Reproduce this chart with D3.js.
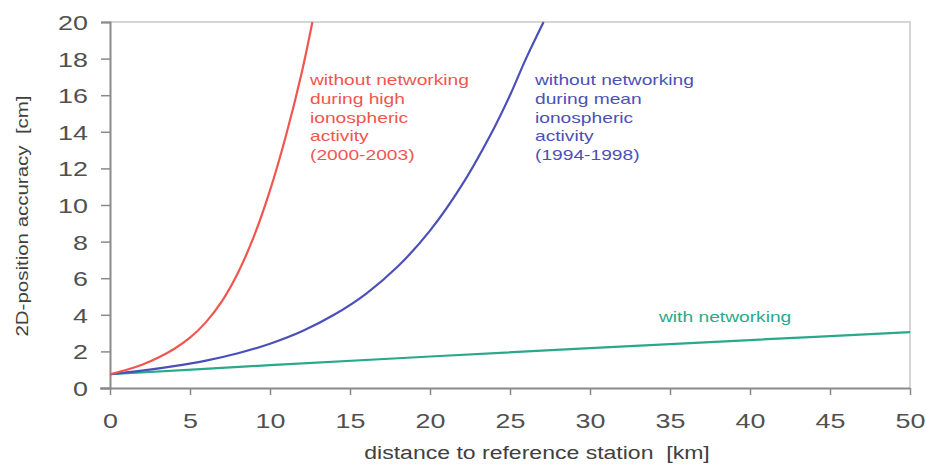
<!DOCTYPE html>
<html>
<head>
<meta charset="utf-8">
<script src="https://cdn.jsdelivr.net/npm/d3@7"></script>
<style>
  body { margin: 0; background: #fff; }
  #chart text { font-family: "Liberation Sans", Arial, sans-serif; }
</style>
</head>
<body>
<div id="chart"></div>
<script>
const xTicks = [0, 5, 10, 15, 20, 25, 30, 35, 40, 45, 50];
const yTicks = [0, 2, 4, 6, 8, 10, 12, 14, 16, 18, 20];

// values (distance km, accuracy cm)
const highDist = [0, 1, 2, 3, 4, 5, 6, 7, 8, 9, 10, 11, 12, 12.65];
const highAcc = [0.75, 0.98, 1.27, 1.65, 2.13, 2.75, 3.6, 4.75, 6.3, 8.3, 10.8, 13.8, 17.3, 20];

const meanDist = [0, 2, 4, 6, 8, 10, 12, 14, 16, 18, 20, 22, 24, 25, 26, 27.1];
const meanAcc = [0.75, 0.95, 1.2, 1.5, 1.9, 2.42, 3.1, 4.0, 5.15, 6.65, 8.6, 11.1, 14.2, 16.0, 18.0, 20];

const netDist = [0, 10, 20, 30, 40, 50];
const netAcc = [0.75, 1.25, 1.72, 2.18, 2.62, 3.05];

const highLabel = ["without networking", "during high", "ionospheric", "activity", "(2000-2003)"];
const meanLabel = ["without networking", "during mean", "ionospheric", "activity", "(1994-1998)"];

const width = 926;
const height = 466;
const margin = { top: 22, right: 16, bottom: 78, left: 110 };
const stretch = 1.28; // the source picture is widened, so its text is too

const svg = d3
  .select("#chart")
  .append("svg")
  .attr("width", width)
  .attr("height", height);

const x = d3.scaleLinear().domain([0, 50]).range([margin.left, width - margin.right]);
const y = d3.scaleLinear().domain([0, 20]).range([height - margin.bottom, margin.top]);

// frame: light top and right borders
svg
  .append("path")
  .attr("d", `M${x(0)},${y(20)}H${x(50)}V${y(0)}`)
  .attr("fill", "none")
  .attr("stroke", "#c8c8c8")
  .attr("stroke-width", 1.5);

const xAxis = svg
  .append("g")
  .attr("transform", `translate(0,${y(0)})`)
  .call(d3.axisBottom(x).tickValues(xTicks).tickSize(7).tickPadding(18));

const yAxis = svg
  .append("g")
  .attr("transform", `translate(${x(0)},0)`)
  .call(d3.axisLeft(y).tickValues(yTicks).tickSize(9).tickPadding(13));

[xAxis, yAxis].forEach((g) => {
  g.select(".domain").attr("stroke", "#8a8a8a").attr("stroke-width", 2);
  g.selectAll(".tick line").attr("stroke", "#8a8a8a").attr("stroke-width", 1.5);
  g.selectAll(".tick text")
    .attr("font-size", 21)
    .attr("fill", "#505050")
    .attr("transform", `scale(${stretch},1)`);
});
xAxis.select(".domain").attr("d", `M${x(0) - 10},0.5H${x(50)}`);
yAxis.selectAll(".tick text").attr("x", -22 / stretch).attr("dy", "0.36em");

const line = d3
  .line()
  .x((d) => x(d[0]))
  .y((d) => y(d[1]))
  .curve(d3.curveCatmullRom.alpha(0.5));

const series = [
  { dist: netDist, acc: netAcc, color: "#2aa98a" },
  { dist: meanDist, acc: meanAcc, color: "#4b50b8" },
  { dist: highDist, acc: highAcc, color: "#f0564e" },
];

series.forEach((s) => {
  svg
    .append("path")
    .datum(s.dist.map((d, i) => [d, s.acc[i]]))
    .attr("d", line)
    .attr("fill", "none")
    .attr("stroke", s.color)
    .attr("stroke-width", 2.2);
});

function addLabel(lines, lx, ly, color) {
  const t = svg
    .append("text")
    .attr("transform", `translate(${lx},${ly}) scale(${stretch},1)`)
    .attr("font-size", 15)
    .attr("fill", color);
  lines.forEach((l, i) => {
    t.append("tspan").attr("x", 0).attr("dy", i === 0 ? 0 : 18.8).text(l);
  });
}

addLabel(highLabel, 310, 85, "#f0564e");
addLabel(meanLabel, 535, 85, "#4b50b8");
addLabel(["with networking"], 659, 322, "#2aa98a");

svg
  .append("text")
  .attr("transform", `translate(537,459) scale(${stretch},1)`)
  .attr("text-anchor", "middle")
  .attr("font-size", 18)
  .attr("fill", "#404040")
  .text("distance to reference station\u00a0\u00a0[km]");

svg
  .append("text")
  .attr("transform", `translate(28,216) rotate(-90) scale(${stretch},1)`)
  .attr("text-anchor", "middle")
  .attr("font-size", 16)
  .attr("fill", "#404040")
  .text("2D-position accuracy\u00a0\u00a0[cm]");
</script>
</body>
</html>
